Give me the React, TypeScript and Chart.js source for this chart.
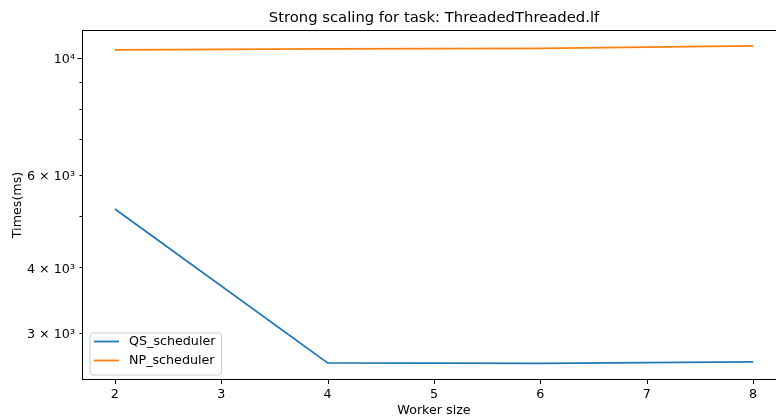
import React, { useEffect, useRef } from "react";
import { Chart, registerables } from "chart.js";

Chart.register(...registerables);

const workers = [2, 4, 6, 8];
const qsTimes = [5160, 2632, 2626, 2644];
const npTimes = [10356, 10400, 10430, 10540];
const seriesNames = ["QS_scheduler", "NP_scheduler"];
const seriesColors = ["#1f77b4", "#ff7f0e"];
const xTicks = [2, 3, 4, 5, 6, 7, 8];
const yTickValues = [3000, 4000, 5000, 6000, 7000, 8000, 9000, 10000];
const yTickLabels: Record<number, string> = {
  3000: "3 × 10³",
  4000: "4 × 10³",
  6000: "6 × 10³",
  10000: "10⁴",
};
const yMajorTicks = [10000];
const titleText = "Strong scaling for task: ThreadedThreaded.lf";
const xTitle = "Worker size";
const yTitle = "Times(ms)";

const FONT = "'DejaVu Sans', sans-serif";
const FS = 12.7;

const framePlugin = {
  id: "frame",
  afterDatasetsDraw(chart: any) {
    const { ctx, chartArea: a, scales } = chart;
    ctx.save();
    ctx.strokeStyle = "#000";
    ctx.lineWidth = 1;
    ctx.strokeRect(Math.round(a.left) - 0.5, Math.round(a.top) - 0.5, Math.round(a.right - a.left) + 1, Math.round(a.bottom - a.top) + 1);
    const xs = scales.x;
    xTicks.forEach((v) => {
      const px = Math.round(xs.getPixelForValue(v)) + 0.5;
      ctx.beginPath();
      ctx.moveTo(px, Math.round(a.bottom) + 0.5);
      ctx.lineTo(px, Math.round(a.bottom) + 5);
      ctx.stroke();
    });
    const ys = scales.y;
    yTickValues.forEach((v) => {
      const py = Math.round(ys.getPixelForValue(v)) + 0.5;
      const len = yMajorTicks.includes(v) ? 5 : 3;
      ctx.beginPath();
      ctx.moveTo(Math.round(a.left) - 0.5, py);
      ctx.lineTo(Math.round(a.left) - 0.5 - len, py);
      ctx.stroke();
    });
    // legend
    ctx.font = FS + "px " + FONT;
    const widths = chart.data.datasets.map((d: any) => ctx.measureText(d.label).width);
    const maxW = Math.max(...widths);
    const bx = a.left + 7;
    const bw = 39 + maxW + 6;
    const bh = 42;
    const by = a.bottom - 4 - bh;
    ctx.beginPath();
    const r = 3;
    ctx.moveTo(bx + r, by);
    ctx.arcTo(bx + bw, by, bx + bw, by + bh, r);
    ctx.arcTo(bx + bw, by + bh, bx, by + bh, r);
    ctx.arcTo(bx, by + bh, bx, by, r);
    ctx.arcTo(bx, by, bx + bw, by, r);
    ctx.closePath();
    ctx.fillStyle = "rgba(255,255,255,0.8)";
    ctx.fill();
    ctx.strokeStyle = "#cccccc";
    ctx.lineWidth = 1;
    ctx.stroke();
    chart.data.datasets.forEach((d: any, i: number) => {
      const cy = by + 8.5 + i * 19;
      ctx.strokeStyle = d.borderColor;
      ctx.lineWidth = 1.8;
      ctx.beginPath();
      ctx.moveTo(bx + 4, cy);
      ctx.lineTo(bx + 29, cy);
      ctx.stroke();
      ctx.fillStyle = "#000";
      ctx.textAlign = "left";
      ctx.textBaseline = "middle";
      ctx.fillText(d.label, bx + 39, cy + 0.5);
    });
    ctx.restore();
  },
};

export default function App() {
  const ref = useRef<HTMLCanvasElement>(null);
  useEffect(() => {
    document.body.style.overflow = "hidden";
    document.body.style.margin = "0";
    const canvas = ref.current!;
    const chart = new Chart(canvas, {
      type: "line",
      data: {
        datasets: [
          {
            label: seriesNames[0],
            data: workers.map((w, i) => ({ x: w, y: qsTimes[i] })),
            borderColor: seriesColors[0],
            backgroundColor: seriesColors[0],
            borderWidth: 1.8,
            pointRadius: 0,
            tension: 0,
          },
          {
            label: seriesNames[1],
            data: workers.map((w, i) => ({ x: w, y: npTimes[i] })),
            borderColor: seriesColors[1],
            backgroundColor: seriesColors[1],
            borderWidth: 1.8,
            pointRadius: 0,
            tension: 0,
          },
        ],
      },
      options: {
        responsive: false,
        animation: false,
        devicePixelRatio: 1,
        layout: { padding: { left: 0, right: 15, top: 0, bottom: 0 } },
        font: { family: FONT },
        plugins: {
          legend: { display: false },
          tooltip: { enabled: false },
          title: {
            display: true,
            text: titleText,
            fullSize: false,
            color: "#000",
            font: { family: FONT, size: 14.8, weight: "normal", lineHeight: 1.2 },
            padding: { top: 9, bottom: 4.2 },
          },
        },
        scales: {
          x: {
            type: "linear",
            min: 1.7,
            max: 8.3,
            afterBuildTicks: (s: any) => {
              s.ticks = xTicks.map((v) => ({ value: v }));
            },
            afterFit: (s: any) => {
              s.height = 39;
            },
            grid: { display: false, drawTicks: false },
            border: { display: false },
            ticks: {
              autoSkip: false,
              maxRotation: 0,
              padding: 8,
              color: "#000",
              font: { family: FONT, size: FS },
              callback: (v: any) => String(v),
            },
            title: {
              display: true,
              text: xTitle,
              color: "#000",
              font: { family: FONT, size: FS, lineHeight: 1.2 },
              padding: { top: 0, bottom: 0 },
            },
          },
          y: {
            type: "logarithmic",
            min: 2453,
            max: 11253,
            afterBuildTicks: (s: any) => {
              s.ticks = yTickValues.map((v) => ({ value: v }));
            },
            afterFit: (s: any) => {
              s.width = 83;
            },
            grid: { display: false, drawTicks: false },
            border: { display: false },
            ticks: {
              autoSkip: false,
              padding: 8,
              labelOffset: 2,
              color: "#000",
              font: { family: FONT, size: FS },
              callback: (v: any) => yTickLabels[Number(v)] ?? "",
            },
            title: {
              display: true,
              text: yTitle,
              color: "#000",
              font: { family: FONT, size: FS, lineHeight: 1.2 },
              padding: { top: 10, bottom: 0 },
            },
          },
        },
      },
      plugins: [framePlugin],
    } as any);
    return () => chart.destroy();
  }, []);
  return (
    <div style={{ position: "absolute", left: 0, top: 0, width: 800, height: 418 }}>
      <canvas ref={ref} width={800} height={418} />
    </div>
  );
}
